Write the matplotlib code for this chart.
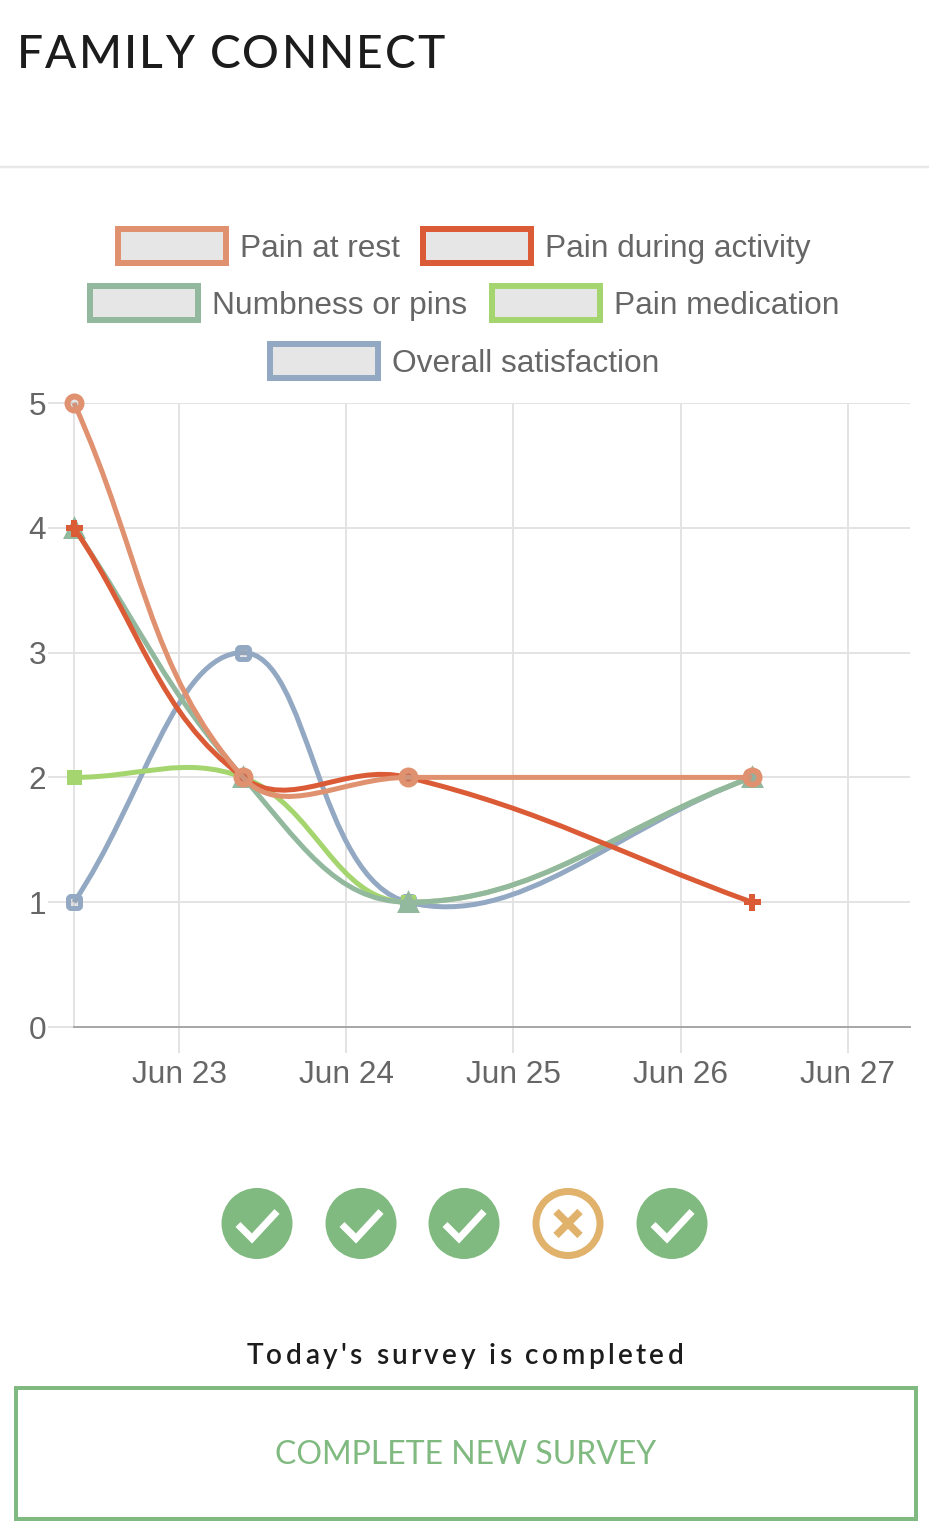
import matplotlib
matplotlib.use("Agg")
import numpy as np
import matplotlib.pyplot as plt
from matplotlib.path import Path
from matplotlib.patches import PathPatch, Rectangle, Circle
from matplotlib.font_manager import FontProperties

W, H = 929, 1534

# days in June for the survey answers
days = [22.372, 23.383, 24.369, 26.426]
pain_rest = [5, 2, 2, 2]
pain_activity = [4, 2, 2, 1]
numbness = [4, 2, 1, 2]
medication = [2, 2, 1, 2]
satisfaction = [1, 3, 1, 2]

labels = ["Pain at rest", "Pain during activity", "Numbness or pins", "Pain medication", "Overall satisfaction"]
colors = ["#e0916f", "#db5b36", "#92b89e", "#a5d56e", "#93a9c3"]
series = [pain_rest, pain_activity, numbness, medication, satisfaction]

tick_days = [23, 24, 25, 26, 27]
tick_labels = ["Jun 23", "Jun 24", "Jun 25", "Jun 26", "Jun 27"]
y_ticks = [0, 1, 2, 3, 4, 5]

survey_done = [True, True, True, False, True]
icon_x = [257, 361, 464, 568, 672]

GREEN = "#80ba80"
ORANGE = "#e0b26c"
GRID = "#e3e3e3"
TEXT = "#666666"
PX = 72 / 100  # one pixel in points
FONT_PX = 31.7

chart_font = "Liberation Sans"

fig = plt.figure(figsize=((W + 0.01) / 100, (H + 0.01) / 100), dpi=100)
fig.patch.set_facecolor("white")

ax = fig.add_axes([74 / W, 1 - 1027 / H, (910 - 74) / W, (1027 - 403) / H])
ax.set_xlim(22.372, 27.371)
ax.set_ylim(0, 5)
ax.set_xticks(tick_days)
ax.set_xticklabels(tick_labels, family=chart_font, fontsize=FONT_PX * PX, color=TEXT)
ax.set_yticks(y_ticks)
ax.set_yticklabels(y_ticks, family=chart_font, fontsize=FONT_PX * PX, color=TEXT)
ax.tick_params(axis="x", length=26 * PX, width=2 * PX, color=GRID, pad=5)
ax.tick_params(axis="y", length=26 * PX, width=2 * PX, color=GRID, pad=1.5)
ax.grid(True, color=GRID, linewidth=2 * PX)
ax.set_axisbelow(True)
for s in ["top", "right"]:
    ax.spines[s].set_visible(False)
ax.spines["left"].set_color(GRID)
ax.spines["left"].set_linewidth(2 * PX)
ax.spines["bottom"].set_color("#a8a8a8")
ax.spines["bottom"].set_linewidth(2 * PX)


def spline_path(xs, ys, tension=0.4):
    # same bezier rule as the web chart, worked out in pixel space
    pts = ax.transData.transform(np.column_stack([xs, ys]))
    n = len(pts)
    verts = [pts[0]]
    codes = [Path.MOVETO]
    out_cp = [None] * n
    in_cp = [None] * n
    for i in range(n):
        prev = pts[max(i - 1, 0)]
        nxt = pts[min(i + 1, n - 1)]
        d01 = np.hypot(*(pts[i] - prev))
        d12 = np.hypot(*(nxt - pts[i]))
        total = d01 + d12
        s01 = d01 / total
        s12 = d12 / total
        in_cp[i] = pts[i] - tension * s01 * (nxt - prev)
        out_cp[i] = pts[i] + tension * s12 * (nxt - prev)
    for i in range(n - 1):
        verts += [out_cp[i], in_cp[i + 1], pts[i + 1]]
        codes += [Path.CURVE4] * 3
    return Path(ax.transData.inverted().transform(np.array(verts)), codes)


# rounded square for the satisfaction marker
r = 0.45
round_sq = Path(
    [(-1 + r, -1), (1 - r, -1), (1, -1), (1, -1 + r), (1, 1 - r), (1, 1), (1 - r, 1),
     (-1 + r, 1), (-1, 1), (-1, 1 - r), (-1, -1 + r), (-1, -1), (-1 + r, -1), (-1 + r, -1)],
    [Path.MOVETO, Path.LINETO, Path.CURVE3, Path.CURVE3, Path.LINETO, Path.CURVE3, Path.CURVE3,
     Path.LINETO, Path.CURVE3, Path.CURVE3, Path.LINETO, Path.CURVE3, Path.CURVE3, Path.CLOSEPOLY],
)
markers = ["o", "P", "^", "s", round_sq]
sizes = [14, 17, 18, 11, 12]
edges = [6, 0, 3, 4, 5]

# first series ends up on top, so draw backwards
for i in range(4, -1, -1):
    z = 3 + (4 - i) * 0.1
    ax.add_patch(PathPatch(spline_path(days, series[i]), fill=False, edgecolor=colors[i],
                           linewidth=5 * PX, zorder=z, clip_on=False))
    face = (0.6, 0.6, 0.6, 0.25) if i in (0, 4) else colors[i]
    ax.plot(days, series[i], linestyle="none", marker=markers[i], markersize=sizes[i] * PX,
            markeredgewidth=edges[i] * PX, markeredgecolor=colors[i],
            markerfacecolor=face, zorder=z + 0.05, clip_on=False)

# everything outside the plot is placed in pixels on a full page axes
ui = fig.add_axes([0, 0, 1, 1], zorder=5)
ui.set_xlim(0, W)
ui.set_ylim(H, 0)
ui.axis("off")
ui.patch.set_alpha(0)

ui.plot([0, W], [167.5, 167.5], color="#e8e8e8", linewidth=2.5 * PX)


def spaced_text(x, y, text, size_px, gap, color, family, anchor="left", weight="normal"):
    fp = FontProperties(family=family, size=size_px * PX, weight=weight)
    rend = fig.canvas.get_renderer()
    offs = []
    for k in range(len(text) + 1):
        w = rend.get_text_width_height_descent(text[:k], fp, False)[0] if k else 0
        offs.append(w + gap * k)
    start = x if anchor == "left" else x - (offs[-1] - gap) / 2
    for k, ch in enumerate(text):
        if ch != " ":
            ui.text(start + offs[k], y, ch, fontproperties=fp, color=color, ha="left", va="baseline")


spaced_text(17, 68, "FAMILY CONNECT", 46, 2.1, "#1c1c1c", "Lato", weight="medium")

# legend, laid out by hand in three centred rows
legend_boxes = [(118, 229), (423, 229), (90, 286), (492, 286), (270, 344)]
for i, (bx, by) in enumerate(legend_boxes):
    ui.add_patch(Rectangle((bx, by), 107.5, 34, facecolor="#e6e6e6", edgecolor=colors[i], linewidth=6 * PX))
    ui.text(bx + 122, by + 16, labels[i], family=chart_font, fontsize=FONT_PX * PX, color=TEXT,
            ha="left", va="center_baseline")

# survey status icons
for cx, done in zip(icon_x, survey_done):
    cy = 1223.5
    if done:
        ui.add_patch(Circle((cx, cy), 35.5, facecolor=GREEN, edgecolor="none"))
        ui.plot([cx - 19, cx - 5, cx + 20], [cy + 1, cy + 15, cy - 12], color="white", linewidth=7 * PX,
                solid_capstyle="butt", solid_joinstyle="miter")
    else:
        ui.add_patch(Circle((cx, cy), 32, facecolor="white", edgecolor=ORANGE, linewidth=7 * PX))
        ui.plot([cx - 12, cx + 12], [cy - 12, cy + 12], color=ORANGE, linewidth=7.5 * PX, solid_capstyle="butt")
        ui.plot([cx - 12, cx + 12], [cy + 12, cy - 12], color=ORANGE, linewidth=7.5 * PX, solid_capstyle="butt")

spaced_text(465, 1364, "Today's survey is completed", 28, 3.4, "#1c1c1c", "Lato", anchor="center", weight="semibold")

ui.add_patch(Rectangle((16, 1388.5), 899.5, 131, facecolor="none", edgecolor=GREEN, linewidth=4 * PX))
ui.text(466, 1464, "COMPLETE NEW SURVEY", family="Lato", fontsize=32 * PX, color=GREEN, ha="center", va="baseline")

fig.savefig("out.png", dpi=100)
